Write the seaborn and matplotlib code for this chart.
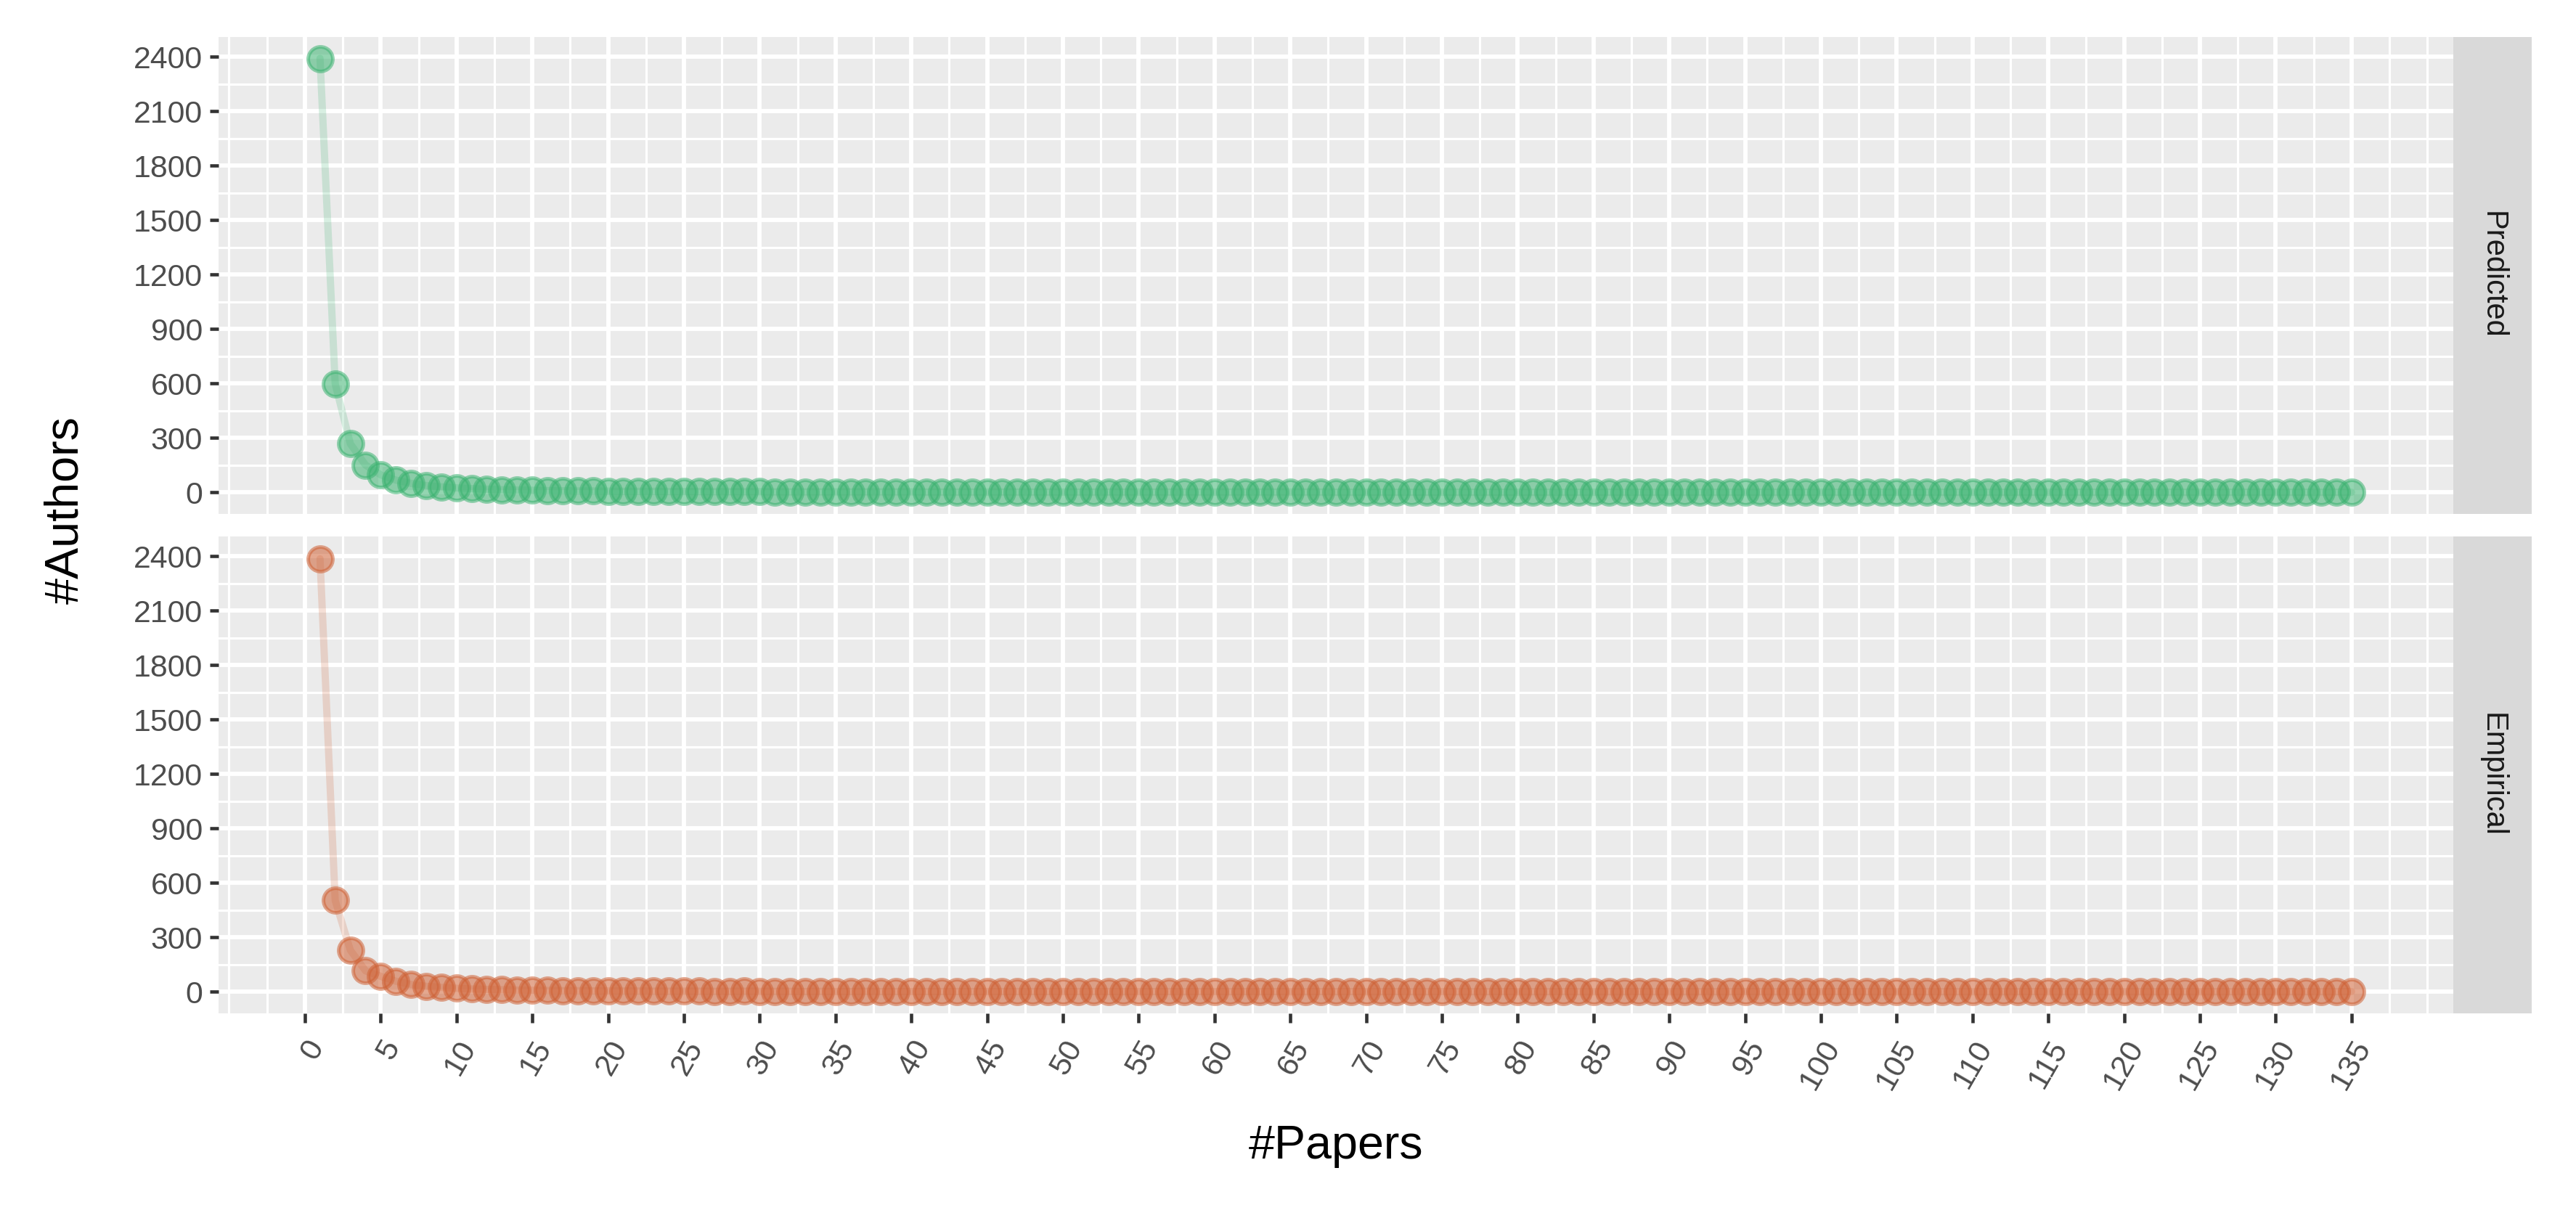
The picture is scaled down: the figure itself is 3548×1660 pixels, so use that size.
import numpy as np
import pandas as pd
import matplotlib
matplotlib.use('Agg')
import matplotlib.pyplot as plt
import seaborn as sns
from matplotlib.ticker import MultipleLocator
import warnings
warnings.filterwarnings('ignore')

#Number of papers (x axis)
papers = list(range(1, 136))

#Number of authors, predicted (Lotka fit) panel
predicted = [2391, 598, 267, 150, 96, 67, 49, 37, 30, 24,
             20, 17, 14, 12, 11, 9, 8, 7, 7, 6,
             5, 5, 5, 4, 4, 4, 3, 3, 3, 3,
             2, 2, 2, 2, 2, 2, 2, 2, 2, 2,
             1, 1, 1, 1, 1, 1, 1, 1, 1, 1,
             1, 1, 1, 1, 1, 1, 1, 1, 1, 1,
             1, 1, 1, 1, 1, 1, 1, 0, 0, 0,
             0, 0, 0, 0, 0, 0, 0, 0, 0, 0,
             0, 0, 0, 0, 0, 0, 0, 0, 0, 0,
             0, 0, 0, 0, 0, 0, 0, 0, 0, 0,
             0, 0, 0, 0, 0, 0, 0, 0, 0, 0,
             0, 0, 0, 0, 0, 0, 0, 0, 0, 0,
             0, 0, 0, 0, 0, 0, 0, 0, 0, 0,
             0, 0, 0, 0, 0]

#Number of authors, empirical panel
empirical = [2386, 503, 229, 115, 85, 58, 40, 30, 24, 19,
             15, 13, 11, 9, 8, 7, 6, 6, 5, 4,
             4, 4, 3, 3, 3, 3, 2, 2, 3, 2,
             2, 2, 1, 2, 1, 1, 2, 1, 1, 1,
             1, 1, 1, 1, 1, 1, 1, 1, 1, 1,
             1, 1, 1, 0, 1, 1, 1, 0, 1, 1,
             0, 1, 0, 1, 0, 0, 1, 0, 1, 0,
             0, 1, 0, 0, 1, 0, 0, 0, 1, 0,
             0, 0, 1, 0, 0, 0, 0, 1, 0, 0,
             0, 0, 0, 0, 1, 0, 0, 0, 0, 0,
             1, 0, 0, 0, 0, 0, 0, 0, 0, 0,
             0, 0, 0, 1, 0, 0, 0, 0, 0, 0,
             0, 0, 0, 0, 0, 0, 0, 0, 0, 0,
             0, 0, 0, 0, 1]

panel_names = ['Predicted', 'Empirical']
panel_colors = ['#3CB371', '#CF6236']

y_ticks = list(range(0, 2401, 300))
x_ticks = list(range(0, 136, 5))

df = pd.concat([
    pd.DataFrame({'papers': papers, 'authors': predicted, 'type': 'Predicted'}),
    pd.DataFrame({'papers': papers, 'authors': empirical, 'type': 'Empirical'}),
])

sns.set_theme(style='darkgrid')
plt.rcParams['font.family'] = ['Liberation Sans', 'DejaVu Sans']
plt.rcParams['axes.facecolor'] = '#EBEBEB'

fig = plt.figure(figsize=(3548 / 300, 1660 / 300), dpi=300)
fig.patch.set_facecolor('white')

#Panel positions (figure fractions)
left, width = 0.0848, 0.8675
bottoms = [0.5735, 0.1590]
height = 0.3960
strip_w = 0.0304

#Shared axis limits with ggplot-like 5% expansion
y_max = max(max(predicted), max(empirical))
y_lim = (-0.05 * y_max, y_max * 1.05)
x_lim = (1 - 0.05 * 134, 135 + 0.05 * 134)

for i, (name, col) in enumerate(zip(panel_names, panel_colors)):
    ax = fig.add_axes([left, bottoms[i], width, height])
    sub = df[df['type'] == name]
    sns.lineplot(data=sub, x='papers', y='authors', color=col, alpha=0.2,
                 linewidth=2.4, ax=ax, zorder=3)
    sns.scatterplot(data=sub, x='papers', y='authors', color=col, alpha=0.55,
                    s=66, edgecolor=col, linewidth=1.2, ax=ax, zorder=4)
    ax.set_xlim(x_lim)
    ax.set_ylim(y_lim)
    ax.set_yticks(y_ticks)
    ax.set_xticks(x_ticks)
    ax.xaxis.set_minor_locator(MultipleLocator(2.5))
    ax.yaxis.set_minor_locator(MultipleLocator(150))
    ax.grid(which='major', color='white', linewidth=1.4)
    ax.grid(which='minor', color='white', linewidth=0.75)
    ax.set_axisbelow(True)
    for s in ax.spines.values():
        s.set_visible(False)
    ax.set_xlabel('')
    ax.set_ylabel('')
    ax.tick_params(axis='y', which='major', length=3, width=1.1, color='#333333',
                   labelsize=10.3, labelcolor='#4D4D4D', pad=2.2, left=True)
    ax.tick_params(which='minor', length=0)
    if i == 0:
        ax.tick_params(axis='x', which='major', bottom=False, labelbottom=False)
    else:
        ax.tick_params(axis='x', which='major', length=3, width=1.1, color='#333333',
                       labelsize=10.3, labelcolor='#4D4D4D', pad=4.2, bottom=True)
        for lab in ax.get_xticklabels():
            lab.set_rotation(60)
            lab.set_ha('right')
            lab.set_va('top')
            lab.set_rotation_mode('anchor')

    #Facet strip on the right
    sax = fig.add_axes([left + width, bottoms[i], strip_w, height])
    sax.set_facecolor('#D9D9D9')
    sax.set_xticks([])
    sax.set_yticks([])
    for s in sax.spines.values():
        s.set_visible(False)
    sax.grid(False)
    sax.text(0.5, 0.5, name, rotation=-90, ha='center', va='center',
             fontsize=10, color='#1A1A1A', transform=sax.transAxes)

fig.text(0.0254, 0.577, '#Authors', rotation=90,
         ha='center', va='center', fontsize=15.5, color='black')
fig.text(left + width / 2, 0.049, '#Papers', ha='center', va='center',
         fontsize=15.5, color='black')

plt.savefig('out.png', dpi=300, facecolor='white')
